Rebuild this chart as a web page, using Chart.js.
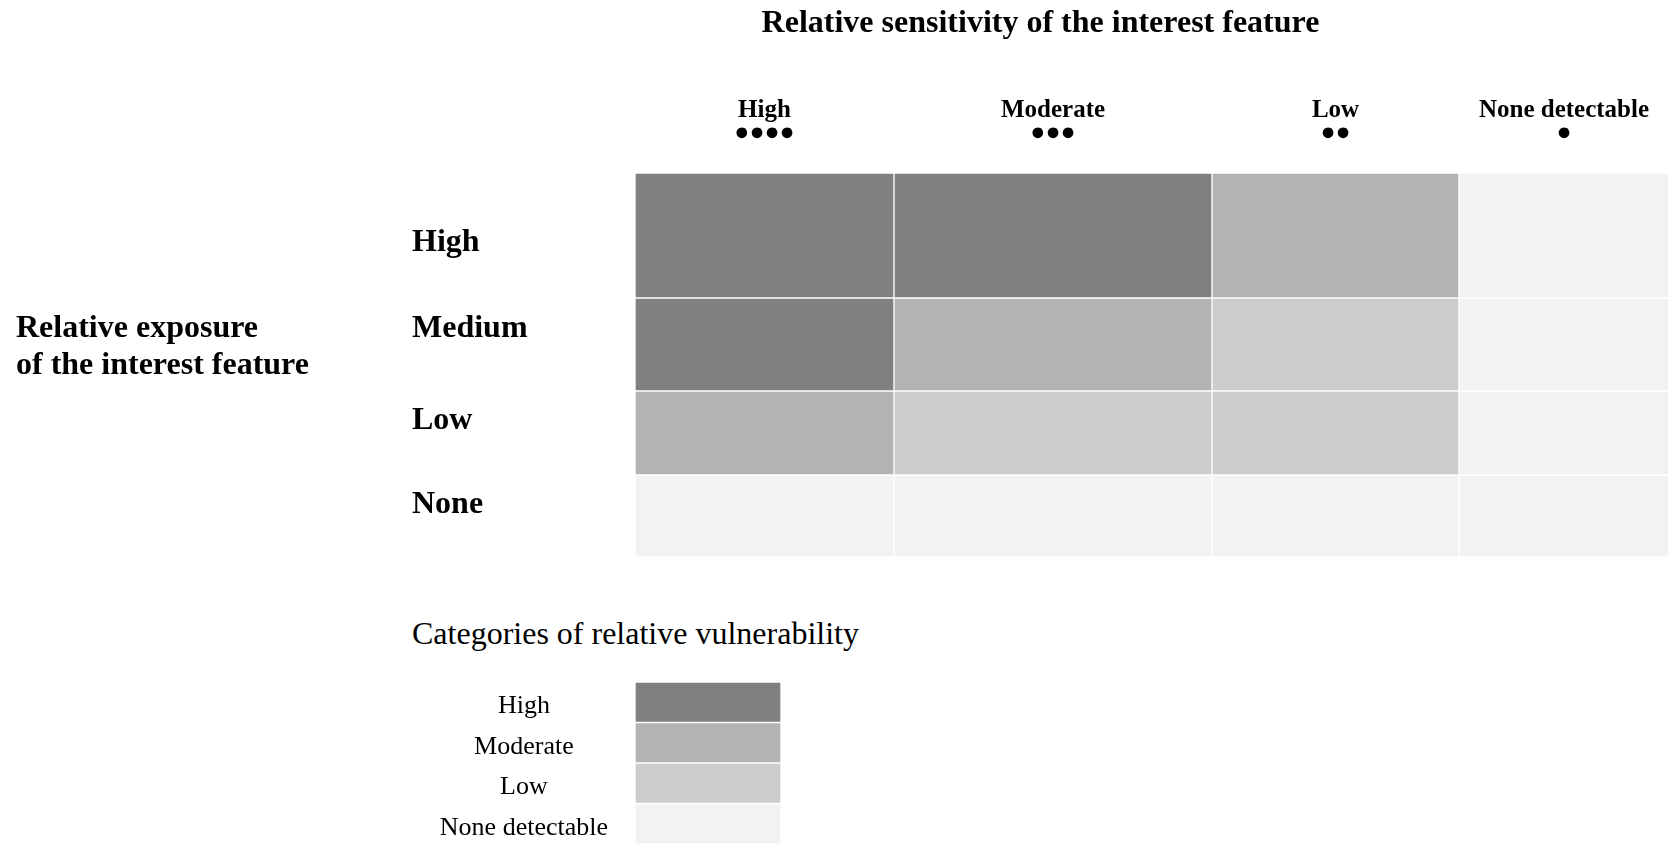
<!DOCTYPE html>
<html>
<head>
<meta charset="utf-8">
<title>Relative vulnerability matrix</title>
<script src="https://cdn.jsdelivr.net/npm/chart.js@4.4.1/dist/chart.umd.min.js"></script>
<style>
    body { margin: 0; background: #fff; font-family: 'Liberation Serif', 'Times New Roman', serif; color: #000; }
    .page { position: relative; width: 1669px; height: 844px; overflow: hidden; }
    #matrixChart { position: absolute; left: 0; top: 0; }
    #legendChart { position: absolute; left: 412px; top: 600px; }
    .exposure-label {
        position: absolute; left: 16px; top: 308px;
        font-weight: bold; font-size: 32px; line-height: 37px;
    }
    .legend-title {
        position: absolute; left: 412px; top: 614px;
        font-size: 32px; line-height: 38px; white-space: nowrap;
    }
</style>
</head>
<body>
<div class="page">
    <canvas id="matrixChart" width="1669" height="557"></canvas>
    <div class="exposure-label">Relative exposure<br>of the interest feature</div>
    <div class="legend-title">Categories of relative vulnerability</div>
    <canvas id="legendChart" width="369" height="244"></canvas>
</div>

<script>
/* Data */

const sensitivityLabels = ['High', 'Moderate', 'Low', 'None detectable'];
const sensitivityDots = ['●●●●', '●●●', '●●', '●'];
const exposureLabels = ['High', 'Medium', 'Low', 'None'];

// vulnerability category per sensitivity column, one array per exposure row
const exposureHigh = ['High', 'High', 'Moderate', 'None detectable'];
const exposureMedium = ['High', 'Moderate', 'Low', 'None detectable'];
const exposureLow = ['Moderate', 'Low', 'Low', 'None detectable'];
const exposureNone = ['None detectable', 'None detectable', 'None detectable', 'None detectable'];
const vulnerabilityRows = [exposureHigh, exposureMedium, exposureLow, exposureNone];

const vulnerabilityCategories = ['High', 'Moderate', 'Low', 'None detectable'];

/* Layout (table-like column widths / row heights, axis units) */

const colWidths = [259, 318, 247, 210];
const rowHeights = [125, 93, 84, 82];
const rowLabelAnchors = [70, 156, 247.5, 332];   // row titles sit a bit off the cell centres

const levelColors = {
    'High': '#808080',
    'Moderate': '#b3b3b3',
    'Low': '#cccccc',
    'None detectable': '#f2f2f2',
};
const serif = "'Liberation Serif', 'Times New Roman', serif";

const edges = sizes => sizes.reduce((acc, s) => { acc.push(acc[acc.length - 1] + s); return acc; }, [0]);
const colEdges = edges(colWidths);
const rowEdges = edges(rowHeights);
const colCenters = colWidths.map((w, j) => colEdges[j] + w / 2);
const rowCenters = rowHeights.map((h, i) => rowEdges[i] + h / 2);

/* Chart: vulnerability matrix */

const datasets = vulnerabilityRows.map((row, i) => ({
    label: exposureLabels[i],
    data: row.map((level, j) => ({ x: [colEdges[j], colEdges[j + 1]], y: rowCenters[i] })),
    backgroundColor: row.map(level => levelColors[level]),
    borderColor: '#ffffff',
    borderWidth: 1,
    borderSkipped: false,
    grouped: false,
    barThickness: ctx => {
        const y = ctx.chart.scales.y;
        return Math.abs(y.getPixelForValue(rowEdges[i + 1]) - y.getPixelForValue(rowEdges[i]));
    },
}));

new Chart(document.getElementById('matrixChart'), {
    type: 'bar',
    data: { datasets },
    options: {
        indexAxis: 'y',
        responsive: false,
        animation: false,
        events: [],
        layout: { padding: { left: 412, top: 0, right: 0, bottom: 0 } },
        plugins: {
            legend: { display: false },
            tooltip: { enabled: false },
            title: {
                display: true,
                text: 'Relative sensitivity of the interest feature',
                color: '#000',
                font: { family: serif, size: 32, weight: 'bold', lineHeight: '38px' },
                padding: { top: 5, bottom: 0 },
            },
        },
        scales: {
            x: {
                type: 'linear',
                position: 'top',
                min: 0,
                max: colEdges[colEdges.length - 1],
                grid: { display: false, drawTicks: false },
                border: { display: false },
                afterBuildTicks: s => { s.ticks = colCenters.map(v => ({ value: v })); },
                afterFit: s => { s.height = 130; s.paddingLeft = 0; s.paddingRight = 0; },
                ticks: {
                    color: '#000',
                    padding: 28,
                    autoSkip: false,
                    maxRotation: 0,
                    font: { family: serif, size: 25, weight: 'bold', lineHeight: 0.92 },
                    callback: (v, idx) => [sensitivityLabels[idx], sensitivityDots[idx]],
                },
            },
            y: {
                type: 'linear',
                offset: false,
                reverse: true,
                min: 0,
                max: rowEdges[rowEdges.length - 1],
                grid: { display: false, drawTicks: false },
                border: { display: false },
                afterBuildTicks: s => { s.ticks = rowLabelAnchors.map(v => ({ value: v })); },
                afterFit: s => { s.width = 223; s.paddingTop = 0; s.paddingBottom = 0; },
                ticks: {
                    color: '#000',
                    autoSkip: false,
                    crossAlign: 'far',
                    font: { family: serif, size: 32, weight: 'bold' },
                    callback: (v, idx) => exposureLabels[idx],
                },
            },
        },
    },
});

/* Chart: legend of vulnerability categories */

new Chart(document.getElementById('legendChart'), {
    type: 'bar',
    data: {
        labels: vulnerabilityCategories,
        datasets: [{
            data: vulnerabilityCategories.map(() => 1),
            backgroundColor: vulnerabilityCategories.map(c => levelColors[c]),
            borderColor: '#ffffff',
            borderWidth: 1,
            borderSkipped: false,
            barPercentage: 1,
            categoryPercentage: 1,
        }],
    },
    options: {
        indexAxis: 'y',
        responsive: false,
        animation: false,
        events: [],
        layout: { padding: { left: 0, top: 82, right: 0, bottom: 0 } },
        plugins: {
            legend: { display: false },
            tooltip: { enabled: false },
        },
        scales: {
            x: { display: false, min: 0, max: 1 },
            y: {
                grid: { display: false, drawTicks: false },
                border: { display: false },
                afterFit: s => { s.width = 223; s.paddingTop = 0; s.paddingBottom = 0; },
                ticks: {
                    color: '#000',
                    crossAlign: 'center',
                    padding: 27,
                    labelOffset: 4,
                    font: { family: serif, size: 26 },
                },
            },
        },
    },
});
</script>
</body>
</html>
